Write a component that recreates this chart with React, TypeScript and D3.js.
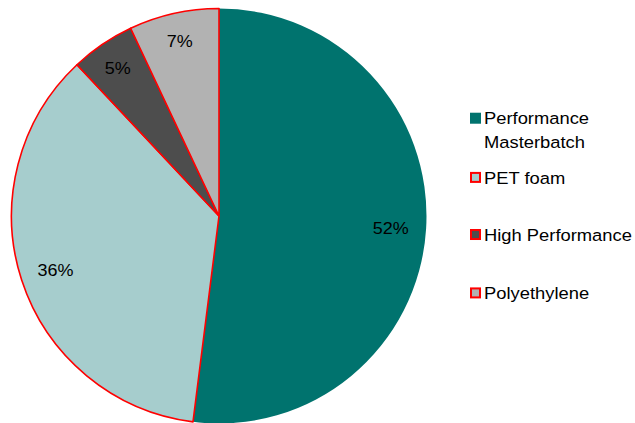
import React from "react";
import * as d3 from "d3";

const categories = ["Performance Masterbatch", "PET foam", "High Performance", "Polyethylene"];
const values = [52, 36, 5, 7];
const labels = ["52%", "36%", "5%", "7%"];
const legendLines = [["Performance", "Masterbatch"], ["PET foam"], ["High Performance"], ["Polyethylene"]];
const colors = ["#00736E", "#A6CDCD", "#4D4D4D", "#B2B2B2"];
const strokes = ["none", "#FF0000", "#FF0000", "#FF0000"];

const W = 635, H = 423;
const cx = 219, cy = 216, R = 207.5;
const legendBase = [124.3, 183.5, 240.6, 299];

export default function App() {
  const pie = d3.pie<number>().sort(null).value((d) => d);
  const arcs = pie(values);
  const arcGen = d3.arc<d3.PieArcDatum<number>>().innerRadius(0).outerRadius(R);
  const total = d3.sum(values);
  const lfs = 16.5;
  const gfs = 17;
  return (
    <svg width={W} height={H} style={{ position: "absolute", left: 0, top: 0 }}
      fontFamily="'Liberation Sans', Arial, sans-serif">
      <rect width={W} height={H} fill="#fff" />
      <g transform={`translate(${cx},${cy})`}>
        {arcs.map((a, i) => (
          <path key={i} d={arcGen(a) || ""} fill={colors[i]}
            stroke={strokes[i]} strokeWidth={1.6} strokeLinejoin="round" />
        ))}
        {arcs.map((a, i) => {
          const mid = (a.startAngle + a.endAngle) / 2;
          const lr = a.data / total > 0.2 ? 172 : 180;
          const x = Math.sin(mid) * lr;
          const y = -Math.cos(mid) * lr + 0.358 * lfs + 1;
          return (
            <text key={i} transform={`translate(${x},${y}) scale(1.09,1)`}
              textAnchor="middle" fontSize={lfs} fill="#000">
              {labels[i]}
            </text>
          );
        })}
      </g>
      <g>
        {categories.map((c, i) => {
          const cyc = legendBase[i] - 0.358 * gfs;
          const plain = strokes[i] === "none";
          return (
            <g key={c}>
              <rect x={plain ? 470 : 471} y={cyc - (plain ? 5.5 : 4.5)}
                width={plain ? 11 : 9} height={plain ? 11 : 9}
                fill={colors[i]} stroke={strokes[i]} strokeWidth={2} />
              {legendLines[i].map((t, j) => (
                <text key={j} transform={`translate(484,${legendBase[i] + j * 24}) scale(1.08,1)`}
                  fontSize={gfs} fill="#000">{t}</text>
              ))}
            </g>
          );
        })}
      </g>
    </svg>
  );
}
